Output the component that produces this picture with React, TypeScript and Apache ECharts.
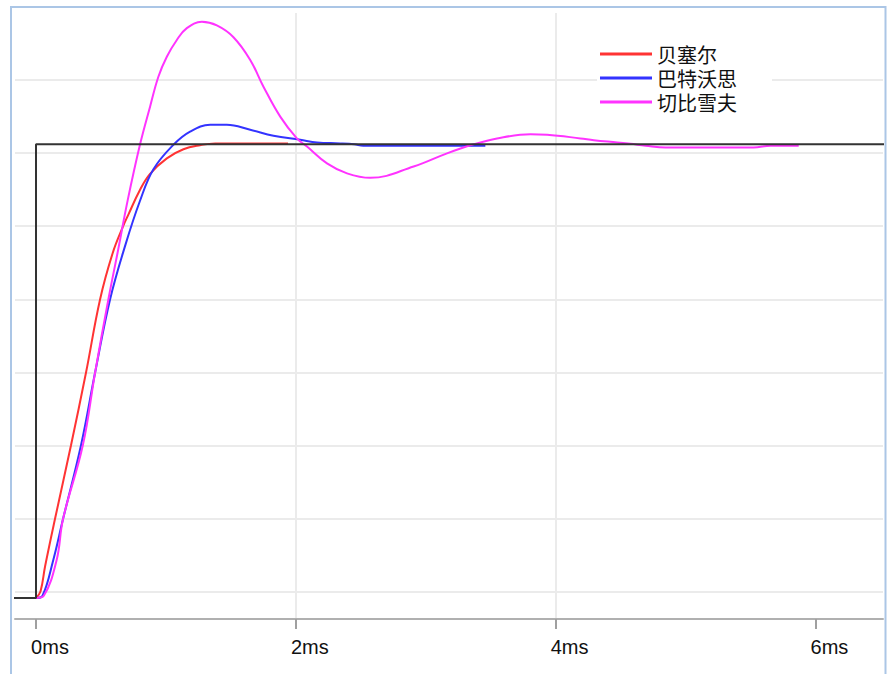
import React, { useEffect, useRef } from "react";
import * as echarts from "echarts";

// Legend names
const seriesNames = ["贝塞尔", "巴特沃思", "切比雪夫"];
// x-axis tick values (ms)
const xTicks = [0, 2, 4, 6];

// Input step (ms, normalized amplitude)
const stepT = [-0.3, 0, 0, 6.7];
const stepV = [0, 0, 1, 1];

// Bessel step response
const besselT = [0, 0.035, 0.07, 0.146, 0.269, 0.385, 0.493, 0.59, 0.67, 0.711, 0.801, 0.878, 1.007, 1.135, 1.263, 1.379, 1.94];
const besselV = [0, 0.015, 0.07, 0.174, 0.336, 0.497, 0.658, 0.76, 0.819, 0.845, 0.9, 0.935, 0.969, 0.989, 0.998, 1.002, 1.002];

// Butterworth step response
const butterT = [0, 0.05, 0.133, 0.208, 0.346, 0.455, 0.57, 0.69, 0.8, 0.904, 1.058, 1.186, 1.341, 1.469, 1.649, 1.828, 2.034, 2.163, 2.342, 2.45, 2.519, 3.459];
const butterV = [0, 0.005, 0.084, 0.174, 0.336, 0.497, 0.658, 0.78, 0.875, 0.945, 0.999, 1.028, 1.043, 1.043, 1.032, 1.019, 1.01, 1.004, 1.002, 1.0, 0.997, 0.997];

// Chebyshev step response
const chebyT = [0, 0.06, 0.159, 0.208, 0.36, 0.455, 0.557, 0.632, 0.706, 0.801, 0.878, 0.942, 1.007, 1.084, 1.161, 1.277, 1.392, 1.52, 1.649, 1.751, 1.88, 2.008, 2.086, 2.24, 2.394, 2.573, 2.907, 3.164, 3.369, 3.549, 3.806, 3.935, 4.191, 4.294, 4.474, 4.576, 4.692, 4.846, 5.193, 5.524, 5.655, 5.871];
const chebyV = [0, 0.005, 0.084, 0.174, 0.336, 0.497, 0.658, 0.767, 0.877, 1.0, 1.083, 1.149, 1.193, 1.23, 1.256, 1.27, 1.262, 1.236, 1.186, 1.127, 1.061, 1.013, 0.995, 0.958, 0.936, 0.926, 0.951, 0.98, 1.0, 1.013, 1.022, 1.021, 1.013, 1.009, 1.004, 1.001, 0.997, 0.993, 0.993, 0.993, 0.997, 0.997];

const seriesColors = ["#ff3333", "#3333ff", "#ff33ff"];

const zip = (t: number[], v: number[]) => t.map((x, i) => [x, v[i]]);

export default function App() {
  const ref = useRef<HTMLDivElement>(null);
  useEffect(() => {
    if (!ref.current) return;
    const chart = echarts.init(ref.current, undefined, { renderer: "svg" });
    const curves = [
      zip(besselT, besselV),
      zip(butterT, butterV),
      zip(chebyT, chebyV),
    ];
    chart.setOption({
      animation: false,
      backgroundColor: "#ffffff",
      textStyle: { fontFamily: "Liberation Sans, Arial, sans-serif" },
      grid: { left: 15, top: 13, right: 5, bottom: 55, containLabel: false },
      graphic: [
        {
          type: "rect",
          silent: true,
          z: 100,
          shape: { x: 11, y: 7, width: 874.5, height: 720 },
          style: { fill: "none", stroke: "#abc6e6", lineWidth: 2 },
        },
      ],
      legend: {
        data: seriesNames,
        orient: "vertical",
        left: 597,
        top: 32,
        backgroundColor: "#ffffff",
        padding: [10, 35, 10, 3],
        itemWidth: 52,
        itemHeight: 3,
        itemGap: 0,
        icon: "rect",
        textStyle: { fontSize: 20, lineHeight: 24, fontFamily: "Noto Sans CJK SC", color: "#111" },
      },
      xAxis: {
        type: "value",
        min: -0.1617,
        max: 6.52,
        minInterval: 2,
        maxInterval: 2,
        axisLine: { onZero: false, lineStyle: { color: "#b0b0b0", width: 2 } },
        axisTick: { customValues: xTicks, length: 10, lineStyle: { color: "#a0a0a0", width: 2 } },
        axisLabel: {
          customValues: xTicks,
          formatter: (v: number) => `${v}ms`,
          fontSize: 20,
          color: "#111",
          fontFamily: "Liberation Sans, Arial, sans-serif",
          margin: 18,
          padding: [0, 0, 0, 28],
        },
        splitLine: { show: true, showMinLine: false, showMaxLine: false, lineStyle: { color: "#ebebeb", width: 2 } },
      },
      yAxis: [
        {
          type: "value",
          min: -0.373,
          max: 7.917,
          splitNumber: 8,
          minInterval: 1,
          maxInterval: 1,
          axisLine: { show: false },
          axisTick: { show: false },
          axisLabel: { show: false },
          splitLine: { show: true, showMinLine: false, showMaxLine: false, lineStyle: { color: "#ebebeb", width: 2 } },
        },
        {
          type: "value",
          min: -0.0463,
          max: 1.2894,
          show: false,
          splitLine: { show: false },
        },
      ],
      series: [
        ...seriesNames.map((name, i) => ({
          name,
          type: "line",
          yAxisIndex: 1,
          data: curves[i],
          showSymbol: false,
          smooth: 0.4,
          color: seriesColors[i],
          lineStyle: { color: seriesColors[i], width: 2 },
        })),
        {
          name: "step",
          type: "line",
          yAxisIndex: 1,
          data: zip(stepT, stepV),
          showSymbol: false,
          color: "#333",
          lineStyle: { color: "#333", width: 2 },
        },
      ],
    });
    return () => chart.dispose();
  }, []);
  return (
    <div
      ref={ref}
      style={{ position: "absolute", left: 0, top: 0, width: 888, height: 674, background: "#fff" }}
    />
  );
}
